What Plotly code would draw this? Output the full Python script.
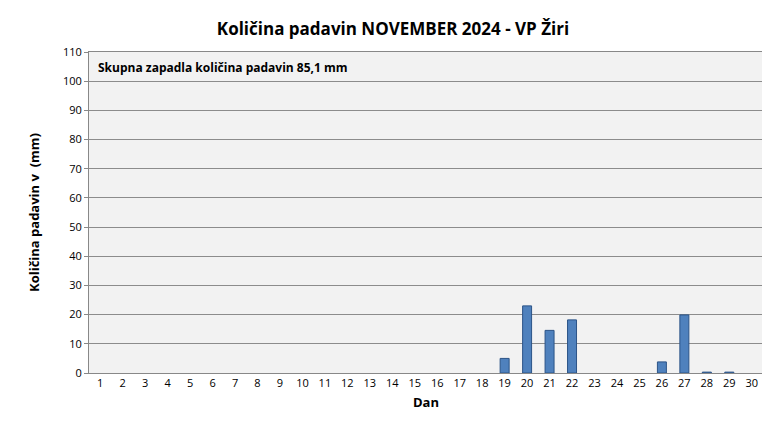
import plotly.graph_objects as go

days = list(range(1, 31))
rain = [0, 0, 0, 0, 0, 0, 0, 0, 0, 0, 0, 0, 0, 0, 0, 0, 0, 0,
        5.0, 23.0, 14.6, 18.2, 0, 0, 0, 3.8, 19.9, 0.3, 0.3, 0]
title = "Količina padavin NOVEMBER 2024 - VP Žiri"
note = "Skupna zapadla količina padavin 85,1 mm"

# days without rain get no bar
shown = [v if v > 0 else None for v in rain]

fig = go.Figure()
fig.add_trace(go.Bar(
    x=days, y=shown, width=0.4,
    marker=dict(color="#4f81bd", line=dict(color="#2c5487", width=1)),
))

fig.add_annotation(text="<b>" + note + "</b>", xref="paper", yref="paper", x=0.01, y=0.985,
                   xanchor="left", yanchor="top", showarrow=False,
                   font=dict(size=12, color="black", family="Open Sans"))

fig.update_layout(
    width=770, height=439,
    title=dict(text="<b>" + title + "</b>", x=0.5, y=0.965, xanchor="center",
               font=dict(size=17, color="black")),
    font=dict(family="Open Sans", size=11, color="black"),
    plot_bgcolor="#f2f2f2", paper_bgcolor="white",
    margin=dict(l=81, r=15, t=44, b=74),
    showlegend=False,
    bargap=0.6,
)
fig.update_xaxes(range=[0.5, 30.5], tickmode="array", tickvals=days,
                 title=dict(text="<b>Dan</b>", font=dict(size=13), standoff=8),
                 showline=True, linecolor="#888", mirror=True, showgrid=False,
                 ticks="", tickfont=dict(size=11))
fig.update_yaxes(range=[0, 110], dtick=10,
                 title=dict(text="<b>Količina padavin v  (mm)</b>", font=dict(size=13), standoff=20),
                 showline=True, linecolor="#888", mirror=True,
                 gridcolor="#8c8c8c", gridwidth=1, zeroline=False,
                 ticks="outside", ticklen=4, tickcolor="#888")

fig.write_html("out.html")
